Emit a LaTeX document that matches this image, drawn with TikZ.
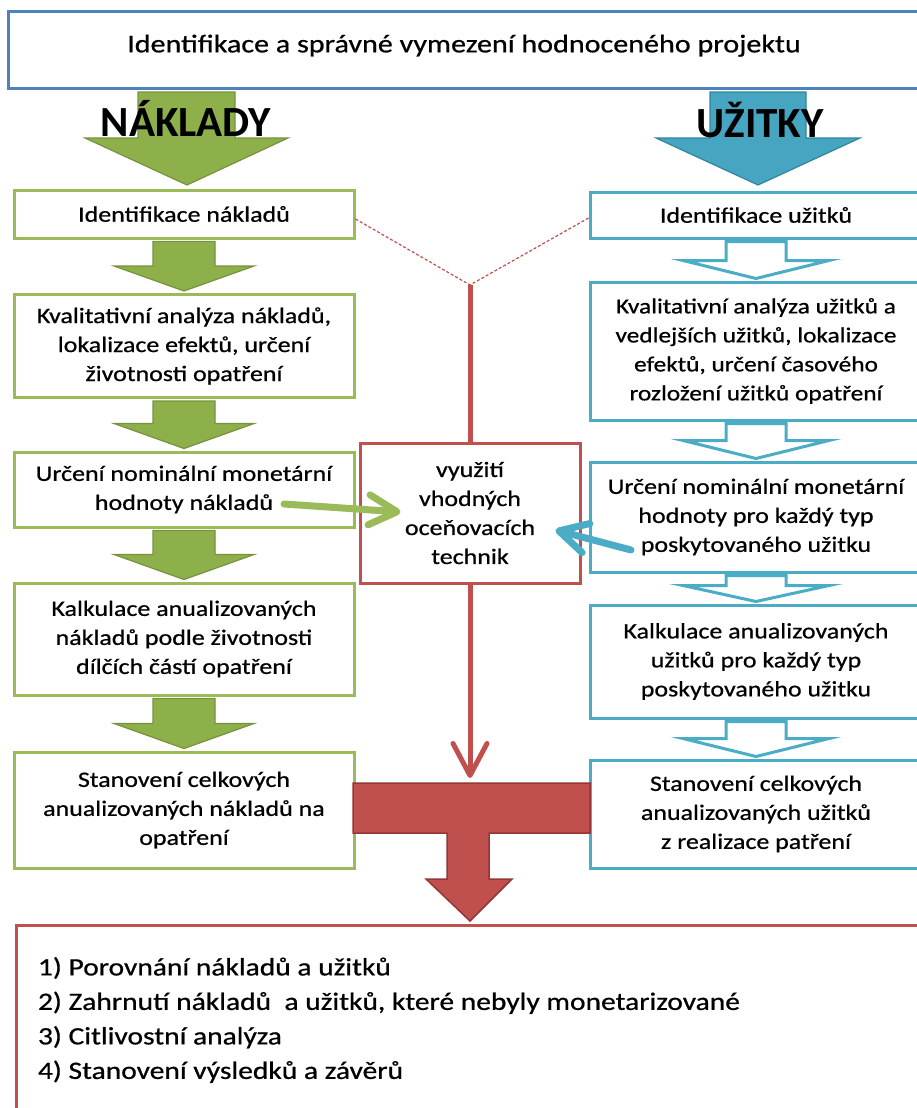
\documentclass[tikz,border=0pt]{standalone}
\usepackage{fontspec}
\setmainfont{Carlito}[FakeStretch=1.18, FakeBold=0.7]
\newfontfamily\headfont{Carlito}
\usetikzlibrary{arrows.meta,calc}

\definecolor{titleblue}{HTML}{4F81BD}
\definecolor{costgreen}{HTML}{9BBB59}
\definecolor{costfill}{HTML}{8DB04B}
\definecolor{costdark}{HTML}{76923C}
\definecolor{benblue}{HTML}{4BACC6}
\definecolor{benfill}{HTML}{46A5C0}
\definecolor{bendark}{HTML}{31859C}
\definecolor{valred}{HTML}{C0504D}
\definecolor{valdark}{HTML}{943634}

% block arrow from the bottom of one box to the top of the next
% #1 style, #2 from, #3 to, #4 half shaft, #5 half head, #6 head length
\newcommand{\blockarrow}[6]{%
  \draw[#1] ($(#2.south)+(-#4,2)$) -- ($(#3.north)+(-#4,-#6-2)$)
    -- ($(#3.north)+(-#5,-#6-2)$) -- ($(#3.north)+(0,-2)$)
    -- ($(#3.north)+(#5,-#6-2)$) -- ($(#3.north)+(#4,-#6-2)$)
    -- ($(#2.south)+(#4,2)$) -- cycle;}

\tikzset{
  txt/.style={font=\fontsize{22}{29}\selectfont},
  costbox/.style={txt, draw=costgreen, line width=3, fill=white, align=center,
    minimum width=340},
  benbox/.style={txt, draw=benblue, line width=3, fill=white, align=center,
    minimum width=332},
  costarrow/.style={fill=costfill, draw=costdark, line width=1.2},
  benarrow/.style={fill=white, draw=benblue, line width=3},
  redline/.style={valred, line width=5},
  barb/.style={line width=7, line cap=round, -{Straight Barb[length=28,width=30,round]}},
  headline/.style={font=\headfont\fontsize{43}{50}\selectfont\bfseries},
}

\begin{document}
\begin{tikzpicture}[x=1pt,y=-1pt]
  \useasboundingbox (0,0) rectangle (917,1108);
  \clip (0,0) rectangle (917,1108);

  % project box
  \node[draw=titleblue, line width=3, minimum width=912, minimum height=76,
    text depth=13, font=\fontsize{25.5}{30}\selectfont] (top) at (464,50)
    {Identifikace a správné vymezení hodnoceného projektu};

  % big arrows under the project box
  \draw[fill=costfill, draw=costdark, line width=1.2] (138,92) -- (138,138) -- (85,138)
    -- (187,185) -- (288,138) -- (235,138) -- (235,92) -- cycle;
  \draw[fill=benfill, draw=bendark, line width=1.2] (710,92) -- (710,138) -- (656,138)
    -- (758,185) -- (860,138) -- (806,138) -- (806,92) -- cycle;
  \node[headline] (naklady) at (186,118) {NÁKLADY};
  \node[headline] (uzitky) at (760,120) {UŽITKY};

  % cost column
  \node[costbox, minimum height=48]  (gid)   at (184,214)   {Identifikace nákladů};
  \node[costbox, minimum height=103] (gkval) at (184,346)   {Kvalitativní analýza nákladů,\\ lokalizace efektů, určení\\ životnosti opatření};
  \node[costbox, minimum height=75]  (gurc)  at (184,489.5) {Určení nominální monetární\\ hodnoty nákladů};
  \node[costbox, minimum height=112] (gkalk) at (184,639)   {Kalkulace anualizovaných\\ nákladů podle životnosti\\ dílčích částí opatření};
  \node[costbox, minimum height=116] (gstan) at (184,810)   {Stanovení celkových\\ anualizovaných nákladů na\\ opatření};

  % benefit column
  \node[benbox, minimum height=46]  (bid)   at (756,215)   {Identifikace užitků};
  \node[benbox, minimum height=138, font=\fontsize{21.5}{29}\selectfont] (bkval) at (756,351)
    {Kvalitativní analýza užitků a\\ vedlejších užitků, lokalizace\\ efektů, určení časového\\ rozložení užitků opatření};
  \node[benbox, minimum height=110] (burc)  at (756,517)   {Určení nominální monetární\\ hodnoty pro každý typ\\ poskytovaného užitku};
  \node[benbox, minimum height=113] (bkalk) at (756,661.5) {Kalkulace anualizovaných\\ užitků pro každý typ\\ poskytovaného užitku};
  \node[benbox, minimum height=108] (bstan) at (756,814)   {Stanovení celkových\\ anualizovaných užitků\\ z realizace patření};

  % arrows down the columns
  \blockarrow{costarrow}{gid}{gkval}{31}{70}{25}
  \blockarrow{costarrow}{gkval}{gurc}{31}{70}{25}
  \blockarrow{costarrow}{gurc}{gkalk}{31}{70}{25}
  \blockarrow{costarrow}{gkalk}{gstan}{31}{70}{25}
  \blockarrow{benarrow}{bid}{bkval}{30}{73}{18}
  \blockarrow{benarrow}{bkval}{burc}{30}{73}{18}
  \blockarrow{benarrow}{burc}{bkalk}{30}{73}{16}
  \blockarrow{benarrow}{bkalk}{bstan}{30}{73}{18}

  % valuation techniques in the middle
  \node[txt, draw=valred, line width=3, fill=white, align=center,
    minimum width=220, minimum height=140] (mid) at (470,513)
    {využití\\ vhodných\\ oceňovacích\\ technik};
  \coordinate (meet) at (470,285);
  \coordinate (down) at (470,778);
  \draw[valred, line width=1.2, dash pattern=on 3pt off 2pt] ($(gid.east)+(0,5)$) -- (meet);
  \draw[valred, line width=1.2, dash pattern=on 3pt off 2pt] ($(bid.west)+(0,3)$) -- (meet);
  \draw[redline] (meet) -- (mid.north);
  \draw[redline, line cap=round, -{Straight Barb[length=32,width=34,round]}] (mid.south) -- (down);

  % inputs of the valuation
  \coordinate (gin) at (284,504);
  \coordinate (bin) at (631,550);
  \draw[costgreen, barb] (gin) -- ($(mid.west)+(42,-1)$);
  \draw[benblue, barb] (bin) -- ($(mid.east)+(-26,17)$);

  % joining bar and arrow to the results
  \draw[fill=valred, draw=valdark, line width=1.5] (353,783) -- (590,783) -- (590,833)
    -- (489,833) -- (489,879) -- (512,879) -- (470,921) -- (426,879) -- (447,879)
    -- (447,833) -- (353,833) -- cycle;

  % results
  \node[draw=valred, line width=3, minimum width=905, minimum height=190,
    text width=861, align=flush left, font=\fontsize{25}{34.5}\selectfont] (res) at (468.5,1020)
    {1) Porovnání nákladů a užitků\\
     2) Zahrnutí nákladů\ \ a užitků, které nebyly monetarizované\\
     3) Citlivostní analýza\\
     4) Stanovení výsledků a závěrů};
\end{tikzpicture}
\end{document}
